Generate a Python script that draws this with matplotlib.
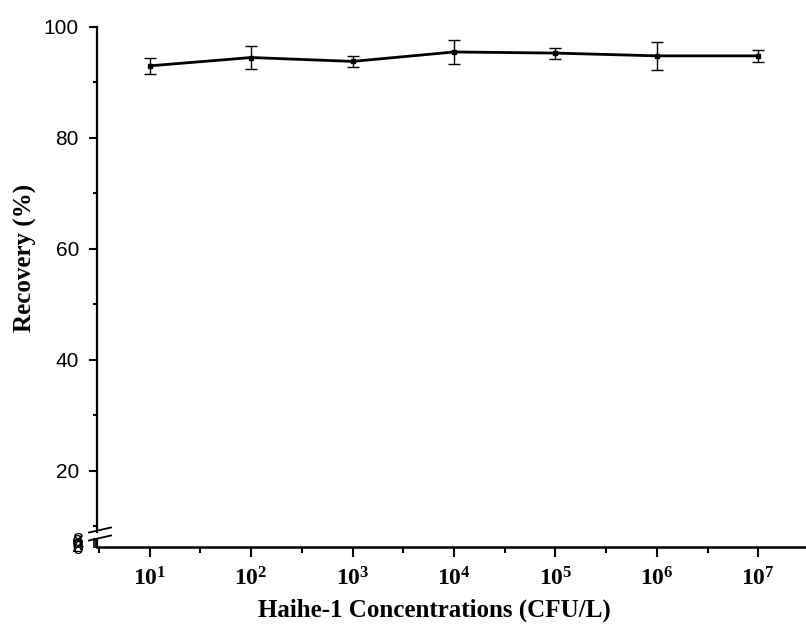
import matplotlib.pyplot as plt

plt.rcParams['mathtext.fontset'] = 'custom'
plt.rcParams['mathtext.rm'] = 'Liberation Serif:bold'
plt.rcParams['mathtext.it'] = 'Liberation Serif:bold'
plt.rcParams['mathtext.bf'] = 'Liberation Serif:bold'

# data
exponents = [1, 2, 3, 4, 5, 6, 7]
recovery = [93.0, 94.5, 93.8, 95.5, 95.3, 94.8, 94.8]
errors = [1.4, 2.0, 1.0, 2.2, 1.0, 2.5, 1.1]
xlabels = ['$10^{%d}$' % e for e in exponents]

fig = plt.figure(figsize=(8.06, 6.28), dpi=100)
H = 628.0
left = 97 / 806
width = 1 - left
ax = fig.add_axes([left, 1 - 532 / H, width, (532 - 27) / H])
axb = fig.add_axes([left, 1 - 547 / H, width, (547 - 539) / H], sharex=ax)

ax.errorbar(exponents, recovery, yerr=errors, color='black', lw=2.0,
            marker='s', ms=2.5, capsize=4, elinewidth=1.0, capthick=1.0)

ax.set_xlim(0.48, 7.47)
ax.set_ylim(9, 100)
ax.set_yticks([20, 40, 60, 80, 100])
ax.set_yticks([10, 30, 50, 70, 90], minor=True)
for s in ['top', 'right', 'bottom']:
    ax.spines[s].set_visible(False)
ax.spines['left'].set_linewidth(1.6)
ax.tick_params(axis='x', which='both', bottom=False, labelbottom=False)
ax.tick_params(axis='y', which='major', length=6, width=1.5, labelsize=15, pad=7)
ax.tick_params(axis='y', which='minor', length=3, width=1.5)
for t in ax.get_yticklabels():
    t.set_fontfamily('Liberation Sans')

axb.set_ylim(0, 8)
axb.set_yticks([0, 2, 4, 6, 8])
for s in ['top', 'right']:
    axb.spines[s].set_visible(False)
axb.spines['left'].set_linewidth(1.6)
axb.spines['bottom'].set_linewidth(1.8)
axb.set_xticks(exponents)
axb.set_xticklabels(xlabels)
axb.set_xticks([e + 0.5 for e in exponents[:-1]] + [0.5], minor=True)
axb.tick_params(axis='x', which='major', length=7, width=1.5, labelsize=17, pad=7)
axb.tick_params(axis='x', which='minor', length=4, width=1.5)
axb.tick_params(axis='y', which='major', length=3, width=1.2, pad=7)
for t in axb.get_yticklabels():
    t.set_fontfamily('Liberation Sans')
    t.set_fontsize(14)

# break marks on the left spine
for yb in [530, 538]:
    yf = 1 - yb / H
    fig.add_artist(plt.Line2D([left - 8 / 806, left + 14 / 806],
                              [yf - 0.004, yf + 0.004], color='black', lw=1.3))

fig.text(434 / 806, 1 - 610 / H, 'Haihe-1 Concentrations (CFU/L)',
         ha='center', va='center', fontfamily='Liberation Serif',
         fontweight='bold', fontsize=18)
fig.text(0.031, 1 - 258 / H, 'Recovery (%)', rotation=90, va='center', ha='center',
         fontfamily='Liberation Serif', fontweight='bold', fontsize=18)

fig.savefig('out.png', dpi=100)
